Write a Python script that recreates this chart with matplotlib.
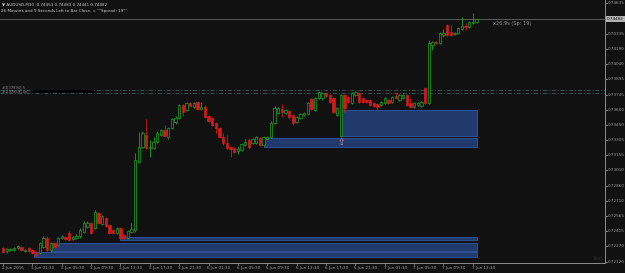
import matplotlib
matplotlib.use('Agg')
import matplotlib.pyplot as plt
import matplotlib.transforms as mtransforms
from matplotlib.patches import Rectangle

# MT4 style colours
BG = '#111111'
COLOR_UP = '#22a322'
COLOR_DOWN = '#d21c1c'
ZONE_FACE = '#213a6e'
ZONE_EDGE = '#2f5294'
AXIS_COLOR = '#8c8c8c'
TEXT_COLOR = '#9a9a9a'

# ---- data: AUDUSD M30 candles ----
opens = [0.72253, 0.72224, 0.72234, 0.72234, 0.72253, 0.72263, 0.72224, 0.72253, 0.72234, 0.72214,
         0.72205, 0.72263, 0.72351, 0.72234, 0.72302, 0.72282, 0.72351, 0.72360, 0.72399, 0.72341,
         0.72351, 0.72370, 0.72409, 0.72458, 0.72497, 0.72448, 0.72594, 0.72487, 0.72545, 0.72477,
         0.72428, 0.72399, 0.72448, 0.72380, 0.72351, 0.72409, 0.72428, 0.73090, 0.73236, 0.73353,
         0.73227, 0.73227, 0.73285, 0.73353, 0.73402, 0.73334, 0.73421, 0.73480, 0.73519, 0.73645,
         0.73596, 0.73665, 0.73626, 0.73674, 0.73606, 0.73626, 0.73538, 0.73519, 0.73470, 0.73421,
         0.73334, 0.73275, 0.73236, 0.73227, 0.73197, 0.73207, 0.73256, 0.73304, 0.73275, 0.73275,
         0.73324, 0.73256, 0.73314, 0.73334, 0.73470, 0.73567, 0.73606, 0.73567, 0.73587, 0.73548,
         0.73480, 0.73519, 0.73548, 0.73557, 0.73703, 0.73596, 0.73713, 0.73713, 0.73762, 0.73742,
         0.73713, 0.73548, 0.73343, 0.73742, 0.73723, 0.73665, 0.73742, 0.73762, 0.73713, 0.73694,
         0.73694, 0.73665, 0.73655, 0.73645, 0.73665, 0.73694, 0.73674, 0.73733, 0.73694, 0.73713,
         0.73742, 0.73665, 0.73626, 0.73645, 0.73635, 0.73811, 0.73665, 0.74229, 0.74258, 0.74248,
         0.74326, 0.74424, 0.74356, 0.74336, 0.74346, 0.74385, 0.74414, 0.74404, 0.74443, 0.74453]
highs = [0.72263, 0.72253, 0.72253, 0.72263, 0.72282, 0.72273, 0.72243, 0.72263, 0.72243, 0.72224,
         0.72312, 0.72370, 0.72370, 0.72312, 0.72312, 0.72360, 0.72380, 0.72370, 0.72419, 0.72370,
         0.72389, 0.72448, 0.72516, 0.72516, 0.72506, 0.72623, 0.72604, 0.72574, 0.72555, 0.72487,
         0.72438, 0.72458, 0.72458, 0.72389, 0.72428, 0.72497, 0.73178, 0.73382, 0.73392, 0.73509,
         0.73304, 0.73334, 0.73392, 0.73411, 0.73450, 0.73431, 0.73519, 0.73538, 0.73655, 0.73655,
         0.73674, 0.73674, 0.73674, 0.73684, 0.73674, 0.73645, 0.73548, 0.73528, 0.73480, 0.73431,
         0.73373, 0.73353, 0.73246, 0.73236, 0.73246, 0.73275, 0.73314, 0.73324, 0.73324, 0.73343,
         0.73334, 0.73343, 0.73343, 0.73489, 0.73635, 0.73626, 0.73655, 0.73606, 0.73596, 0.73557,
         0.73538, 0.73567, 0.73577, 0.73674, 0.73713, 0.73723, 0.73781, 0.73772, 0.73772, 0.73752,
         0.73723, 0.73626, 0.73752, 0.73752, 0.73733, 0.73772, 0.73781, 0.73772, 0.73723, 0.73703,
         0.73703, 0.73674, 0.73665, 0.73684, 0.73723, 0.73703, 0.73733, 0.73772, 0.73752, 0.73752,
         0.73752, 0.73713, 0.73674, 0.73674, 0.73684, 0.73820, 0.74278, 0.74268, 0.74268, 0.74356,
         0.74385, 0.74433, 0.74424, 0.74356, 0.74404, 0.74502, 0.74443, 0.74463, 0.74540, 0.74483]
lows = [0.72205, 0.72205, 0.72224, 0.72224, 0.72243, 0.72224, 0.72214, 0.72214, 0.72195, 0.72166,
        0.72195, 0.72253, 0.72224, 0.72214, 0.72253, 0.72273, 0.72341, 0.72331, 0.72321, 0.72331,
        0.72341, 0.72351, 0.72399, 0.72448, 0.72389, 0.72438, 0.72487, 0.72477, 0.72458, 0.72389,
        0.72389, 0.72389, 0.72341, 0.72341, 0.72341, 0.72399, 0.72409, 0.73081, 0.73227, 0.73217,
        0.73139, 0.73217, 0.73275, 0.73343, 0.73334, 0.73314, 0.73411, 0.73460, 0.73509, 0.73538,
        0.73587, 0.73626, 0.73616, 0.73596, 0.73596, 0.73519, 0.73480, 0.73441, 0.73373, 0.73324,
        0.73256, 0.73217, 0.73139, 0.73178, 0.73168, 0.73197, 0.73246, 0.73217, 0.73265, 0.73265,
        0.73246, 0.73246, 0.73304, 0.73324, 0.73460, 0.73557, 0.73528, 0.73557, 0.73509, 0.73450,
        0.73470, 0.73509, 0.73538, 0.73548, 0.73596, 0.73587, 0.73703, 0.73694, 0.73723, 0.73665,
        0.73567, 0.73538, 0.73334, 0.73577, 0.73665, 0.73655, 0.73733, 0.73665, 0.73665, 0.73665,
        0.73635, 0.73626, 0.73596, 0.73635, 0.73655, 0.73655, 0.73665, 0.73703, 0.73684, 0.73703,
        0.73635, 0.73616, 0.73616, 0.73635, 0.73626, 0.73655, 0.73655, 0.74180, 0.74239, 0.74239,
        0.74307, 0.74317, 0.74317, 0.74326, 0.74336, 0.74375, 0.74375, 0.74394, 0.74433, 0.74441]
closes = [0.72214, 0.72243, 0.72243, 0.72253, 0.72273, 0.72234, 0.72234, 0.72224, 0.72205, 0.72175,
          0.72302, 0.72351, 0.72234, 0.72302, 0.72263, 0.72351, 0.72370, 0.72341, 0.72331, 0.72360,
          0.72370, 0.72428, 0.72497, 0.72497, 0.72399, 0.72604, 0.72497, 0.72565, 0.72467, 0.72399,
          0.72399, 0.72448, 0.72351, 0.72351, 0.72419, 0.72438, 0.73110, 0.73236, 0.73373, 0.73227,
          0.73236, 0.73285, 0.73373, 0.73402, 0.73343, 0.73421, 0.73509, 0.73519, 0.73645, 0.73577,
          0.73665, 0.73635, 0.73665, 0.73606, 0.73626, 0.73528, 0.73489, 0.73450, 0.73421, 0.73334,
          0.73275, 0.73227, 0.73217, 0.73188, 0.73217, 0.73265, 0.73285, 0.73236, 0.73314, 0.73334,
          0.73256, 0.73334, 0.73334, 0.73470, 0.73616, 0.73616, 0.73577, 0.73596, 0.73528, 0.73470,
          0.73528, 0.73557, 0.73567, 0.73665, 0.73606, 0.73713, 0.73772, 0.73762, 0.73733, 0.73674,
          0.73577, 0.73616, 0.73742, 0.73616, 0.73674, 0.73762, 0.73772, 0.73674, 0.73674, 0.73674,
          0.73645, 0.73635, 0.73626, 0.73674, 0.73713, 0.73665, 0.73723, 0.73713, 0.73742, 0.73742,
          0.73645, 0.73626, 0.73665, 0.73665, 0.73674, 0.73665, 0.74248, 0.74258, 0.74248, 0.74346,
          0.74346, 0.74326, 0.74326, 0.74346, 0.74394, 0.74414, 0.74404, 0.74453, 0.74453, 0.74482]

time_labels = ['2 Jun 2016', '3 Jun 01:30', '3 Jun 05:30', '3 Jun 09:30', '3 Jun 13:30',
               '3 Jun 17:30', '3 Jun 21:30', '6 Jun 01:30', '6 Jun 05:30', '6 Jun 09:30',
               '6 Jun 13:30', '6 Jun 17:30', '6 Jun 21:30', '7 Jun 01:30', '7 Jun 05:30',
               '7 Jun 09:30', '7 Jun 13:30']
time_label_bars = [0, 8, 16, 24, 32, 40, 48, 56, 64, 72, 80, 88, 96, 104, 112, 120, 128]

price_labels = [0.74635, 0.74335, 0.74190, 0.74040, 0.73895, 0.73745, 0.73600, 0.73450,
                0.73305, 0.73155, 0.73010, 0.72860, 0.72710, 0.72565, 0.72415, 0.72270, 0.72120]

bid = 0.74482
spread = 19

# demand / supply zones: start bar, end bar, top, bottom
zone_start = [92, 71, 32, 13, 8.5]
zone_end = [129, 129, 129, 129, 129]
zone_top = [0.73596, 0.73324, 0.72358, 0.72305, 0.72217]
zone_bottom = [0.73343, 0.73236, 0.72334, 0.72227, 0.72168]

# horizontal level lines
levels = [0.73791, 0.73759]

# ---- figure ----
fig = plt.figure(figsize=(6.25, 2.73), dpi=100, facecolor=BG)
ax = fig.add_axes([0, 10 / 273, 605 / 625, 263 / 273])
ax.set_facecolor(BG)
ax.set_xlim(-0.82, 164.0)
ax.set_ylim(0.72107, 0.74667)

for s in ['top', 'left']:
    ax.spines[s].set_visible(False)
for s in ['right', 'bottom']:
    ax.spines[s].set_color(AXIS_COLOR)
    ax.spines[s].set_linewidth(0.7)
ax.set_xticks([])
ax.set_yticks([])

# zones
for x0, x1, top, bot in zip(zone_start, zone_end, zone_top, zone_bottom):
    ax.add_patch(Rectangle((x0, bot), x1 - x0, top - bot, facecolor=ZONE_FACE,
                           edgecolor=ZONE_EDGE, linewidth=0.7, zorder=1))
ax.text(92, 0.73282, '\u21e7', color='#d89090', fontsize=6.5, ha='center', va='center',
        zorder=4)

# level lines (dash-dot) + bid line
for lv in levels:
    ax.axhline(lv, color='#3b5656', linewidth=0.7, linestyle=(0, (4, 2, 1, 2)), zorder=1)
ax.axhline(bid, color='#5a5a5a', linewidth=0.7, zorder=1)

# candles
for i, (o, h, l, c) in enumerate(zip(opens, highs, lows, closes)):
    col = COLOR_UP if c >= o else COLOR_DOWN
    ax.vlines(i, l, h, color=col, linewidth=0.6, zorder=3)
    lo, hi = min(o, c), max(o, c)
    face = BG if c >= o else COLOR_DOWN
    if hi - lo < 0.00004:
        ax.hlines((o + c) / 2, i - 0.32, i + 0.32, color=col, linewidth=0.8, zorder=3)
    else:
        ax.add_patch(Rectangle((i - 0.32, lo), 0.64, hi - lo, facecolor=face,
                               edgecolor=col, linewidth=0.5, zorder=3))

# left level labels with dark box
ax.add_patch(Rectangle((8.2, 0.73757), 16.5, 0.00034, facecolor='#000000',
                       edgecolor='none', zorder=2))
ax.text(-0.4, 0.73812, '#1[37894] S', color='#8a8a8a', fontsize=2.6, va='center', zorder=4)
ax.text(-0.4, 0.73770, '#1[37859] Sy', color='#8a8a8a', fontsize=2.6, va='center', zorder=4)

# header text
fig.text(2 / 625, 1 - 4 / 273, '\u25bc AUDUSD,M30  0.74453 0.74483 0.74441 0.74482',
         color='#c8c8c8', fontsize=3, va='center', ha='left')
fig.text(1 / 625, 1 - 11 / 273, '26 Minutes and 9 Seconds Left to Bar Close. = ""Spread: 19""',
         color='#c8c8c8', fontsize=3, va='center', ha='left')

# countdown next to last bar
ax.text(133.5, 0.74435, 'x26:9s (Sp: %d)' % spread, color='#8e8e8e', fontsize=3.6,
        va='center', ha='left')

# right price scale
ytrans = mtransforms.blended_transform_factory(ax.transAxes, ax.transData)
for p in price_labels:
    ax.plot([1.0, 1.0 + 2 / 605], [p, p], color=AXIS_COLOR, linewidth=0.6,
            transform=ytrans, clip_on=False)
    ax.text(1.0 + 3 / 605, p, '%.5f' % p, color=TEXT_COLOR, fontsize=3, va='center',
            ha='left', transform=ytrans, clip_on=False)
ax.text(1.0 + 2 / 605, bid, '%.5f' % bid, color='#111111', fontsize=3, va='center',
        ha='left', transform=ytrans, clip_on=False,
        bbox=dict(boxstyle='square,pad=0.25', facecolor='#b4b4b4', edgecolor='none'))

# bottom time scale
xtrans = mtransforms.blended_transform_factory(ax.transData, ax.transAxes)
for b, lab in zip(time_label_bars, time_labels):
    ax.plot([b, b], [0, -2 / 263], color=AXIS_COLOR, linewidth=0.6,
            transform=xtrans, clip_on=False)
    ax.text(b - 0.3, -5 / 263, lab, color=TEXT_COLOR, fontsize=3, va='center',
            ha='left', transform=xtrans, clip_on=False)

ax.text(598 / 605, 4 / 263, 'Text', color='#2a2a2a', fontsize=4, ha='center',
        va='center', transform=ax.transAxes)

fig.savefig('out.png', dpi=100, facecolor=BG)
